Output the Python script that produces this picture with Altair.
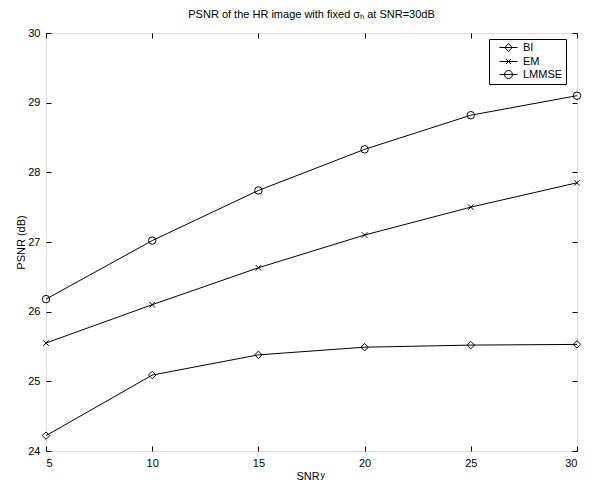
import altair as alt
import pandas as pd

# ---- data ----
snr = [5, 10, 15, 20, 25, 30]
bi = [24.22, 25.09, 25.38, 25.49, 25.52, 25.53]
em = [25.55, 26.10, 26.63, 27.10, 27.50, 27.85]
lmmse = [26.18, 27.02, 27.74, 28.33, 28.82, 29.10]
series_names = ["BI", "EM", "LMMSE"]
x_ticks = [5, 10, 15, 20, 25, 30]
y_ticks = [24, 25, 26, 27, 28, 29, 30]
title_text = "PSNR of the HR image with fixed σₕ at SNR=30dB"
x_title = "SNR"
x_title_sub = ["y"]
y_title = "PSNR (dB)"

rows = []
for name, vals in zip(series_names, [bi, em, lmmse]):
    for s, v in zip(snr, vals):
        rows.append({"snr": s, "psnr": v, "method": name})
df = pd.DataFrame(rows)

W, H = 531, 418
FONT = "Liberation Sans"

xscale = alt.Scale(domain=[5, 30], nice=False, zero=False)
yscale = alt.Scale(domain=[24, 30], nice=False, zero=False)

marker_range = ["diamond", "M-0.75,-0.75L0.75,0.75M-0.75,0.75L0.75,-0.75", "circle"]
legend_range = [
    "M-1.8,0L1.8,0M-0.75,0L0,-0.8L0.75,0L0,0.8Z",
    "M-1.8,0L1.8,0M-0.5,-0.5L0.5,0.5M-0.5,0.5L0.5,-0.5",
    "M-1.8,0L1.8,0M-0.8,0A0.8,0.8 0 1,0 0.8,0A0.8,0.8 0 1,0 -0.8,0Z",
]

common_axis = dict(grid=False, domain=False, tickSize=5, offset=-5, tickColor="black",
                   tickWidth=1, labelFont=FONT, labelFontSize=11, labelColor="black",
                   titleFont=FONT, titleFontSize=11, titleFontWeight="normal", titleColor="black")

lines = alt.Chart(df).mark_line(color="black", strokeWidth=1).encode(
    x=alt.X("snr:Q", scale=xscale,
            axis=alt.Axis(orient="bottom", values=x_ticks, labelPadding=6, title=x_title,
                          titlePadding=2, titleX=W / 2 - 4, **common_axis)),
    y=alt.Y("psnr:Q", scale=yscale,
            axis=alt.Axis(orient="left", values=y_ticks, labelPadding=6, title=y_title,
                          titlePadding=1, **common_axis)),
    detail="method:N",
)

points = alt.Chart(df).mark_point(filled=False, color="black", strokeWidth=1, size=56, opacity=1).encode(
    x=alt.X("snr:Q", scale=xscale,
            axis=alt.Axis(orient="top", values=x_ticks, labels=False, title=None, **common_axis)),
    y=alt.Y("psnr:Q", scale=yscale,
            axis=alt.Axis(orient="right", values=y_ticks, labels=False, title=None, **common_axis)),
    shape=alt.Shape("method:N", scale=alt.Scale(domain=series_names, range=marker_range), legend=None),
)

legend_layer = alt.Chart(df).transform_filter("false").mark_point(
    filled=False, color="black", strokeWidth=1, opacity=1
).encode(
    x=alt.X("snr:Q", scale=xscale, axis=None),
    y=alt.Y("psnr:Q", scale=yscale, axis=None),
    shape=alt.Shape("method:N", scale=alt.Scale(domain=series_names, range=legend_range),
                    legend=alt.Legend(title=None, orient="none", legendX=443, legendY=6,
                                      strokeColor="black", fillColor="white", padding=3,
                                      symbolSize=100, symbolStrokeWidth=1,
                                      symbolStrokeColor="black", symbolType="circle",
                                      labelFont=FONT, labelFontSize=11, labelColor="black",
                                      rowPadding=1, symbolOffset=11, labelOffset=9,
                                      labelExpr="datum.label + '\u00a0\u00a0\u00a0\u00a0\u00a0\u00a0\u00a0'")),
)

sub = alt.Chart(pd.DataFrame({"t": x_title_sub})).mark_text(
    font=FONT, fontSize=9, color="black", align="left", baseline="alphabetic"
).encode(x=alt.value(W / 2 + 9), y=alt.value(H + 27), text="t:N")

chart = alt.layer(lines, points, legend_layer, sub).resolve_scale(
    shape="independent"
).resolve_axis(x="independent", y="independent").properties(
    width=W, height=H,
    title=alt.TitleParams(title_text, font=FONT, fontSize=11, fontWeight="normal", color="black",
                          offset=7),
    padding={"left": 38, "top": 25, "right": 9, "bottom": 30},
    autosize=alt.AutoSizeParams(type="none"),
).configure_view(stroke="black", strokeWidth=1).configure(background="white")

chart.save("out.html", embed_options={"renderer": "svg", "actions": False})
